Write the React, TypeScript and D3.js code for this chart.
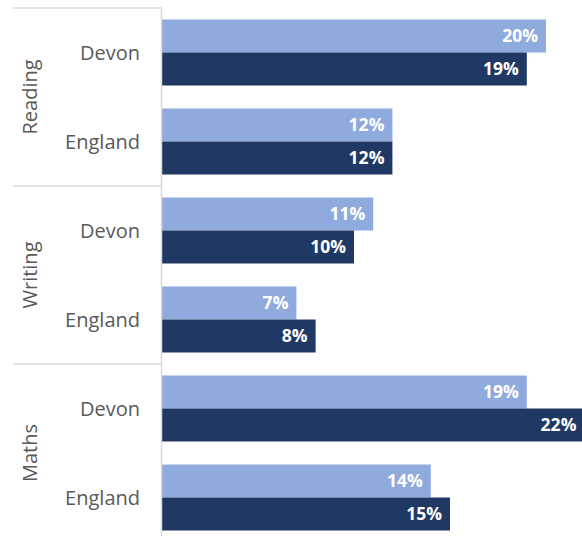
import React from "react";
import * as d3 from "d3";

const groups = ["Reading", "Writing", "Maths"];
const areas = ["Devon", "England"];
const series1 = [20.0, 12.0, 11.0, 7.0, 19.0, 14.0];
const series2 = [19.0, 12.0, 10.0, 8.0, 22.0, 15.0];
const colors = ["#8faadc", "#203864"];

const W = 582;
const H = 536;
const FONT = "'Open Sans', sans-serif";

export default function App() {
  const left = 162;
  const top = 8;
  const bottom = 542;
  const rows = groups.flatMap((g) => areas.map((a) => `${g}|${a}`));
  const y = d3.scaleBand<string>().domain(rows).range([top, bottom]).paddingInner(23 / 89).paddingOuter(11.5 / 89);
  const yBand = d3.scaleBand<string>().domain(rows).range([top, bottom]);
  const x = d3.scaleLinear().domain([0, 1]).range([left, left + 19.2]);
  const gY = d3.scaleBand<string>().domain(groups).range([top, bottom]);
  const sub = d3.scaleBand<string>().domain(["a", "b"]).range([0, y.bandwidth()]);
  const seriesAll = [series1, series2];

  return (
    <svg width={W} height={H} style={{ position: "absolute", left: 0, top: 0 }}>
      <rect width={W} height={H} fill="#fff" />
      {rows.map((r, i) =>
        seriesAll.map((s, k) => {
          const v = s[i];
          const by = (y(r) as number) + (sub(k === 0 ? "a" : "b") as number);
          return (
            <g key={r + k}>
              <rect x={x(0)} y={by} width={x(v) - x(0)} height={sub.bandwidth()} fill={colors[k]} />
              <text
                x={x(v) - 8}
                y={by + sub.bandwidth() / 2}
                dy="0.36em"
                textAnchor="end"
                fill="#fff"
                fontFamily={FONT}
                fontWeight={700}
                fontSize={17.5}
              >
                {Math.round(v)}%
              </text>
            </g>
          );
        })
      )}
      {groups.map((g) => (
        <line key={g} x1={13} x2={left} y1={gY(g) as number} y2={gY(g) as number} stroke="#d9d9d9" strokeWidth={1.5} />
      ))}
      <line x1={left - 0.5} x2={left - 0.5} y1={top} y2={H} stroke="#d9d9d9" strokeWidth={1.5} />
      {rows.map((r) => (
        <text
          key={r}
          x={140}
          y={(yBand(r) as number) + yBand.bandwidth() / 2}
          dy="0.35em"
          textAnchor="end"
          fill="#595959"
          fontFamily={FONT}
          fontSize={20}
        >
          {r.split("|")[1]}
        </text>
      ))}
      {groups.map((g) => {
        const cy = (gY(g) as number) + gY.bandwidth() / 2;
        return (
          <text
            key={g}
            transform={`translate(30,${cy}) rotate(-90)`}
            dy="0.35em"
            textAnchor="middle"
            fill="#595959"
            fontFamily={FONT}
            fontSize={20}
          >
            {g}
          </text>
        );
      })}
    </svg>
  );
}
